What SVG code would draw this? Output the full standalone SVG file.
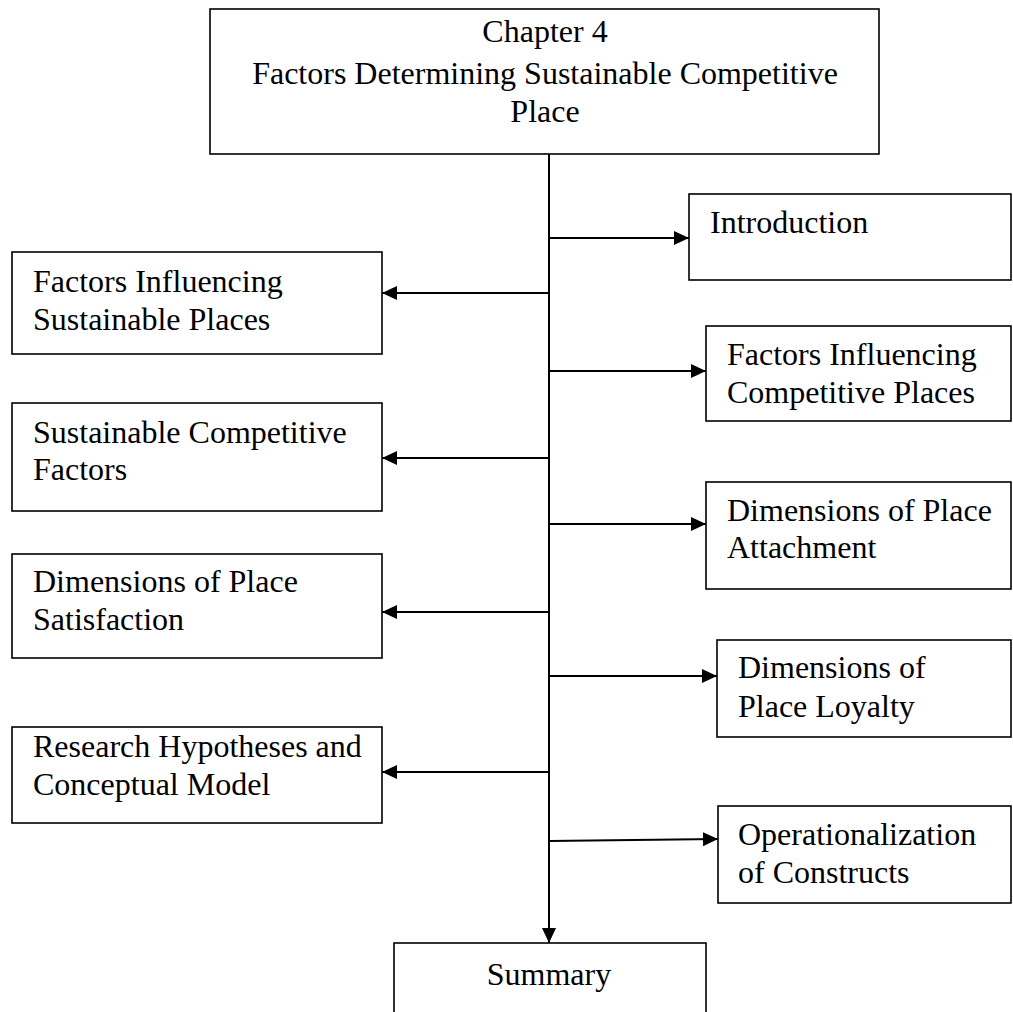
<svg xmlns="http://www.w3.org/2000/svg" width="1013" height="1012" viewBox="0 0 1013 1012">
<style>
.box{fill:#fff;stroke:#000;stroke-width:1.6}
.t{font-family:"Liberation Serif","Times New Roman",serif;font-size:32px;fill:#000}
.c{text-anchor:middle}
.ln{fill:none;stroke:#000;stroke-width:2}
</style>
<defs>
<marker id="ah" markerUnits="userSpaceOnUse" markerWidth="16" markerHeight="16" viewBox="0 0 16 16" refX="15" refY="8" orient="auto">
<path d="M0,1 L15,8 L0,15 Z" fill="#000"/>
</marker>
</defs>
<rect width="1013" height="1012" fill="#fff"/>
<g id="connectors">
<line class="ln" x1="549" y1="154" x2="549" y2="943" marker-end="url(#ah)"/>
<line class="ln" x1="549" y1="238" x2="689" y2="238" marker-end="url(#ah)"/>
<line class="ln" x1="549" y1="293" x2="382" y2="293" marker-end="url(#ah)"/>
<line class="ln" x1="549" y1="371" x2="706" y2="371" marker-end="url(#ah)"/>
<line class="ln" x1="549" y1="458" x2="382" y2="458" marker-end="url(#ah)"/>
<line class="ln" x1="549" y1="524" x2="706" y2="524" marker-end="url(#ah)"/>
<line class="ln" x1="549" y1="612" x2="382" y2="612" marker-end="url(#ah)"/>
<line class="ln" x1="549" y1="676" x2="717" y2="676" marker-end="url(#ah)"/>
<line class="ln" x1="549" y1="772" x2="382" y2="772" marker-end="url(#ah)"/>
<line class="ln" x1="549" y1="841" x2="718" y2="839" marker-end="url(#ah)"/>
</g>
<g id="chapter">
<rect class="box" x="210" y="9" width="669" height="145"/>
<text class="t c" x="545" y="42">Chapter 4</text>
<text class="t c" x="545" y="84">Factors Determining Sustainable Competitive</text>
<text class="t c" x="545" y="122">Place</text>
</g>
<g id="introduction">
<rect class="box" x="689" y="194" width="322" height="86"/>
<text class="t" x="710" y="233">Introduction</text>
</g>
<g id="factors-sustainable">
<rect class="box" x="12" y="252" width="370" height="102"/>
<text class="t" x="33" y="292">Factors Influencing</text>
<text class="t" x="33" y="330">Sustainable Places</text>
</g>
<g id="factors-competitive">
<rect class="box" x="706" y="326" width="305" height="95"/>
<text class="t" x="727" y="365">Factors Influencing</text>
<text class="t" x="727" y="403">Competitive Places</text>
</g>
<g id="sustainable-competitive">
<rect class="box" x="12" y="403" width="370" height="108"/>
<text class="t" x="33" y="443">Sustainable Competitive</text>
<text class="t" x="33" y="480">Factors</text>
</g>
<g id="place-attachment">
<rect class="box" x="706" y="482" width="305" height="107"/>
<text class="t" x="727" y="521">Dimensions of Place</text>
<text class="t" x="727" y="558">Attachment</text>
</g>
<g id="place-satisfaction">
<rect class="box" x="12" y="554" width="370" height="104"/>
<text class="t" x="33" y="592">Dimensions of Place</text>
<text class="t" x="33" y="630">Satisfaction</text>
</g>
<g id="place-loyalty">
<rect class="box" x="717" y="640" width="294" height="97"/>
<text class="t" x="738" y="678">Dimensions of</text>
<text class="t" x="738" y="717">Place Loyalty</text>
</g>
<g id="hypotheses">
<rect class="box" x="12" y="727" width="370" height="96"/>
<text class="t" x="33" y="757">Research Hypotheses and</text>
<text class="t" x="33" y="795">Conceptual Model</text>
</g>
<g id="operationalization">
<rect class="box" x="718" y="806" width="293" height="97"/>
<text class="t" x="738" y="845">Operationalization</text>
<text class="t" x="738" y="883">of Constructs</text>
</g>
<g id="summary">
<rect class="box" x="394" y="943" width="312" height="80"/>
<text class="t c" x="549" y="985">Summary</text>
</g>
</svg>
